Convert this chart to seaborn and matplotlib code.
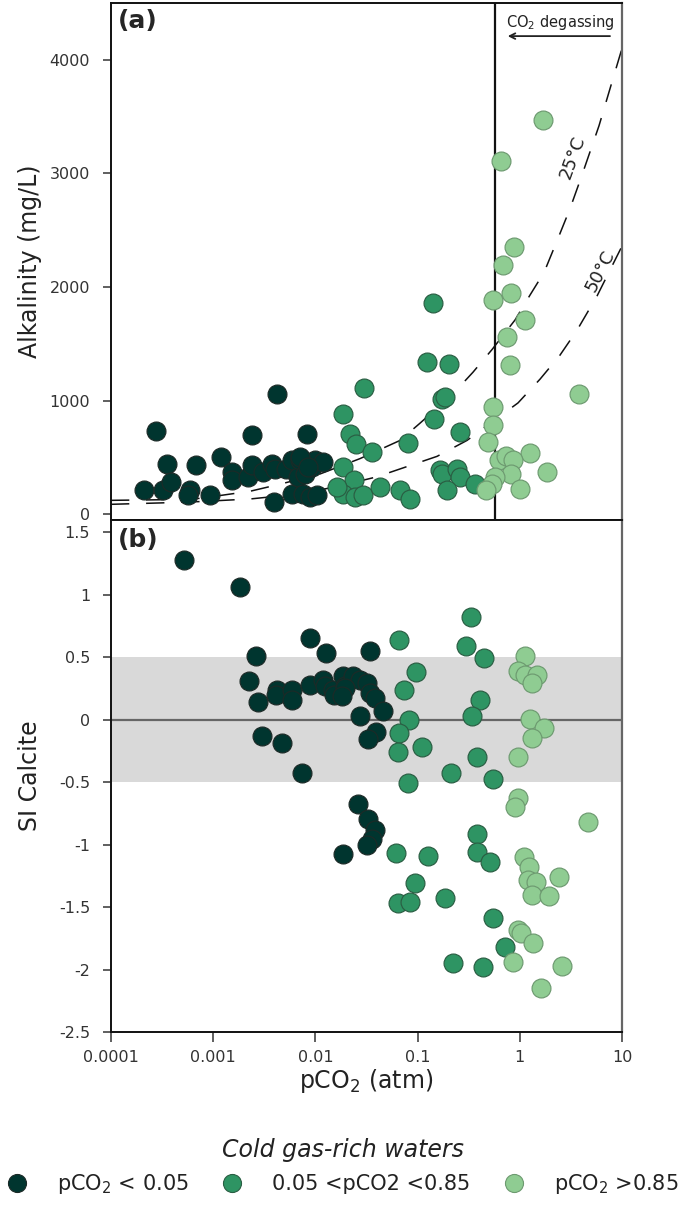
import numpy as np
import pandas as pd
import matplotlib.pyplot as plt
import seaborn as sns
from matplotlib.lines import Line2D
from matplotlib.ticker import FixedLocator, FixedFormatter, NullLocator

sns.set_style('white')
plt.rcParams['font.family'] = ['DejaVu Sans']
plt.rcParams['axes.unicode_minus'] = False

# ---- panel (a): alkalinity vs pCO2 ----
a_low_p = [2.1e-4, 2.75e-4, 3.25e-4, 3.56e-4, 3.84e-4, 5.9e-4, 6.8e-4, 5.7e-4, 9.3e-4, 1.19e-3,
           1.54e-3, 1.54e-3, 2.2e-3, 2.38e-3, 2.38e-3, 3.1e-3, 3.73e-3, 4.18e-3, 4.03e-3, 3.94e-3,
           5.2e-3, 5.86e-3, 5.86e-3, 6.8e-3, 7.06e-3, 8.2e-3, 7.6e-3, 8.85e-3, 7.9e-3, 9.2e-3,
           9.9e-3, 0.0103, 0.0119, 7.06e-3, 8.45e-3]
a_low_alk = [211, 734, 211, 447, 285, 211, 438, 167, 167, 505,
             373, 300, 329, 696, 432, 373, 447, 1063, 403, 108,
             403, 476, 182, 329, 476, 711, 182, 152, 359, 417,
             476, 167, 461, 502, 414]

a_mid_p = [0.0187, 0.0218, 0.0249, 0.0299, 0.0187, 0.0239, 0.0187, 0.0244, 0.0294, 0.0429,
           0.0356, 0.0673, 0.0843, 0.081, 0.1426, 0.1227, 0.204, 0.172, 0.185, 0.146,
           0.26, 0.166, 0.172, 0.241, 0.26, 0.193, 0.365, 0.0162]
a_mid_alk = [887, 711, 623, 1116, 417, 300, 182, 152, 167, 241,
             549, 211, 138, 628, 1856, 1342, 1322, 1019, 1034, 843,
             725, 388, 359, 403, 329, 211, 270, 241]

a_high_p = [0.69, 0.542, 0.815, 1.12, 0.755, 0.80, 3.82, 0.542, 0.542, 0.49,
            1.26, 0.63, 0.74, 0.86, 0.82, 1.84, 0.57, 0.53, 0.47, 1.0,
            1.70, 0.65, 0.877]
a_high_alk = [2194, 1885, 1950, 1709, 1557, 1313, 1057, 945, 790, 637,
              544, 482, 511, 476, 359, 373, 329, 270, 211, 226,
              3471, 3113, 2355]

# calcite equilibrium curves
curve25_p = [1e-4, 3.0e-4, 7.4e-4, 2.3e-3, 4.5e-3, 0.0111, 0.0273, 0.0673, 0.105, 0.222,
             0.348, 0.535, 0.898, 1.26, 1.73, 2.37, 3.1, 3.97, 5.96, 7.6, 10]
curve25_alk = [123, 128, 140, 203, 265, 355, 490, 650, 800, 1060,
               1250, 1450, 1710, 1930, 2130, 2430, 2690, 2960, 3420, 3740, 4100]
curve50_p = [1e-4, 3.0e-4, 7.4e-4, 2.3e-3, 7.1e-3, 0.0174, 0.040, 0.0787, 0.155, 0.304,
             0.96, 1.58, 2.47, 3.63, 5.69, 10]
curve50_alk = [88, 100, 112, 135, 180, 250, 330, 420, 510, 650,
               980, 1190, 1400, 1620, 1920, 2360]
degas_threshold = 0.57

# ---- panel (b): SI calcite vs pCO2 ----
b_low_p = [5.2e-4, 1.83e-3, 2.6e-3, 2.25e-3, 2.72e-3, 4.18e-3, 4.1e-3, 5.86e-3, 5.86e-3, 8.85e-3,
           0.0127, 8.85e-3, 0.0119, 0.0124, 0.015, 0.0153, 0.0187, 0.0196, 0.0235, 0.0273,
           0.0318, 0.0195, 0.0182, 0.0342, 0.0383, 0.0461, 0.0273, 0.0392, 0.033, 0.0342,
           2.99e-3, 4.68e-3, 7.35e-3, 0.0187, 0.0263, 0.033, 0.0383, 0.0355, 0.0323]
b_low_si = [1.276, 1.065, 0.508, 0.307, 0.139, 0.241, 0.2, 0.241, 0.16, 0.656,
            0.535, 0.281, 0.321, 0.267, 0.241, 0.2, 0.348, 0.267, 0.348, 0.321,
            0.294, 0.254, 0.187, 0.214, 0.174, 0.067, 0.032, -0.094, -0.155, 0.548,
            -0.128, -0.182, -0.423, -1.076, -0.677, -0.797, -0.883, -0.958, -1.003]

b_mid_p = [0.0657, 0.0964, 0.0741, 0.0824, 0.0657, 0.1097, 0.0647, 0.333, 0.298, 0.447,
           0.408, 0.338, 0.379, 0.081, 0.212, 0.542, 0.0615, 0.127, 0.0944, 0.0647,
           0.0843, 0.185, 0.379, 0.384, 0.51, 0.542, 0.716, 0.22, 0.434]
b_mid_si = [0.636, 0.383, 0.241, 0.0, -0.102, -0.214, -0.254, 0.824, 0.588, 0.495,
            0.16, 0.032, -0.294, -0.503, -0.428, -0.476, -1.07, -1.09, -1.31, -1.466,
            -1.458, -1.426, -0.915, -1.057, -1.137, -1.59, -1.82, -1.948, -1.98]

b_high_p = [1.125, 0.966, 1.125, 1.46, 1.33, 1.26, 1.74, 1.33, 0.966, 0.953,
            0.898, 4.68, 1.107, 1.24, 1.21, 1.44, 2.44, 1.33, 1.95, 0.966,
            1.02, 1.35, 0.863, 2.57, 1.60]
b_high_si = [0.508, 0.388, 0.361, 0.361, 0.294, 0.005, -0.067, -0.142, -0.294, -0.629,
             -0.696, -0.816, -1.097, -1.177, -1.279, -1.297, -1.262, -1.404, -1.41, -1.685,
             -1.707, -1.784, -1.94, -1.974, -2.145]

x_ticks = [1e-4, 1e-3, 1e-2, 1e-1, 1, 10]
x_ticklabels = ['0.0001', '0.001', '0.01', '0.1', '1', '10']
a_yticks = [0, 1000, 2000, 3000, 4000]
b_yticks = [1.5, 1, 0.5, 0, -0.5, -1, -1.5, -2, -2.5]
b_yticklabels = ['1.5', '1', '0.5', '0', '-0.5', '-1', '-1.5', '-2', '-2.5']

group_names = ['low', 'mid', 'high']
group_labels = ['pCO$_2$ < 0.05', '0.05 <pCO2 <0.85', 'pCO$_2$ >0.85']
face = {'low': '#00352f', 'mid': '#2e9463', 'high': '#8fcc92'}
edge = {'low': '#1c2a27', 'mid': '#2a5e43', 'high': '#6d9a70'}

df_a = pd.concat([
    pd.DataFrame({'pco2': a_low_p, 'val': a_low_alk, 'group': 'low'}),
    pd.DataFrame({'pco2': a_mid_p, 'val': a_mid_alk, 'group': 'mid'}),
    pd.DataFrame({'pco2': a_high_p, 'val': a_high_alk, 'group': 'high'}),
])
df_b = pd.concat([
    pd.DataFrame({'pco2': b_low_p, 'val': b_low_si, 'group': 'low'}),
    pd.DataFrame({'pco2': b_mid_p, 'val': b_mid_si, 'group': 'mid'}),
    pd.DataFrame({'pco2': b_high_p, 'val': b_high_si, 'group': 'high'}),
])

fig = plt.figure(figsize=(6.85, 12.09), dpi=100)
ax1 = fig.add_axes([0.162, 0.5699, 0.746, 0.4276])
ax2 = fig.add_axes([0.162, 0.1464, 0.746, 0.4235])

for ax in (ax1, ax2):
    ax.set_xscale('log')
    ax.set_xlim(1e-4, 10)
    for side in ['left', 'bottom', 'top']:
        ax.spines[side].set_color('#111111')
        ax.spines[side].set_linewidth(1.4)
    ax.spines['right'].set_color('#666666')
    ax.spines['right'].set_linewidth(1.6)

# panel (a)
sns.lineplot(x=curve25_p, y=curve25_alk, ax=ax1, color='#111111', lw=1.1,
             linestyle=(0, (12, 11)), zorder=2)
sns.lineplot(x=curve50_p, y=curve50_alk, ax=ax1, color='#111111', lw=1.1,
             linestyle=(0, (12, 11)), zorder=2)
ax1.axvline(degas_threshold, color='#111111', lw=1.6, zorder=2)
for g in group_names:
    sub = df_a[df_a['group'] == g]
    sns.scatterplot(data=sub, x='pco2', y='val', color=face[g], edgecolor=edge[g],
                    s=185, linewidth=0.85, ax=ax1, zorder=3, legend=False)
ax1.set_ylim(-50, 4500)
ax1.yaxis.set_major_locator(FixedLocator(a_yticks))
ax1.tick_params(axis='x', which='both', bottom=False, labelbottom=False)
ax1.set_xlabel('')
ax1.set_ylabel('Alkalinity (mg/L)', fontsize=17, color='#222222')
ax1.yaxis.set_label_coords(-0.135, 0.5)
ax1.text(0.013, 0.988, '(a)', transform=ax1.transAxes, fontsize=18, fontweight='bold',
         va='top', ha='left')
ax1.text(0.879, 0.962, 'CO$_2$ degassing', transform=ax1.transAxes, fontsize=10.5,
         ha='center', va='center', color='#222222')
ax1.annotate('', xy=(0.771, 0.936), xytext=(0.982, 0.936), xycoords='axes fraction',
             arrowprops=dict(arrowstyle='->', lw=1.3, color='#222222'))
ax1.text(0.904, 0.702, '25\u00b0C', transform=ax1.transAxes, fontsize=13, rotation=70,
         ha='center', va='center', color='#222222')
ax1.text(0.957, 0.482, '50\u00b0C', transform=ax1.transAxes, fontsize=13, rotation=63,
         ha='center', va='center', color='#222222')

# panel (b)
ax2.axhspan(-0.5, 0.5, color='#d9d9d9', lw=0, zorder=0)
ax2.axhline(0, color='#666666', lw=1.6, zorder=1)
for g in group_names:
    sub = df_b[df_b['group'] == g]
    sns.scatterplot(data=sub, x='pco2', y='val', color=face[g], edgecolor=edge[g],
                    s=185, linewidth=0.85, ax=ax2, zorder=3, legend=False)
ax2.set_ylim(-2.5, 1.6)
ax2.yaxis.set_major_locator(FixedLocator(b_yticks))
ax2.yaxis.set_major_formatter(FixedFormatter(b_yticklabels))
ax2.xaxis.set_major_locator(FixedLocator(x_ticks))
ax2.xaxis.set_major_formatter(FixedFormatter(x_ticklabels))
ax2.xaxis.set_minor_locator(NullLocator())
ax2.tick_params(axis='x', direction='out', length=7, width=1.2, color='#444444',
                labelsize=11.5, labelcolor='#333333', pad=6, bottom=True)
ax2.set_xlabel('pCO$_2$ (atm)', fontsize=17, color='#222222')
ax2.xaxis.set_label_coords(0.5, -0.068)
ax2.set_ylabel('SI Calcite', fontsize=17, color='#222222')
ax2.yaxis.set_label_coords(-0.135, 0.5)
ax2.text(0.013, 0.985, '(b)', transform=ax2.transAxes, fontsize=18, fontweight='bold',
         va='top', ha='left')

for ax in (ax1, ax2):
    ax.tick_params(axis='y', direction='out', length=6, width=1.2, color='#444444',
                   labelsize=11.5, labelcolor='#333333', pad=9, left=True)
    ax.xaxis.set_minor_locator(NullLocator())

handles = [Line2D([], [], marker='o', linestyle='', markersize=13,
                  markerfacecolor=face[g], markeredgecolor=edge[g], markeredgewidth=0.8)
           for g in group_names]
leg = fig.legend(handles, group_labels, loc='lower center', bbox_to_anchor=(0.5, 0.0),
                 ncol=3, frameon=False, fontsize=15, handlelength=1.0, handletextpad=1.4,
                 columnspacing=1.6, borderaxespad=0.2,
                 title='Cold gas-rich waters',
                 title_fontproperties={'style': 'italic', 'size': 17})
for t in leg.get_texts():
    t.set_color('#222222')
leg.get_title().set_color('#222222')

fig.savefig('out.png', dpi=100)
